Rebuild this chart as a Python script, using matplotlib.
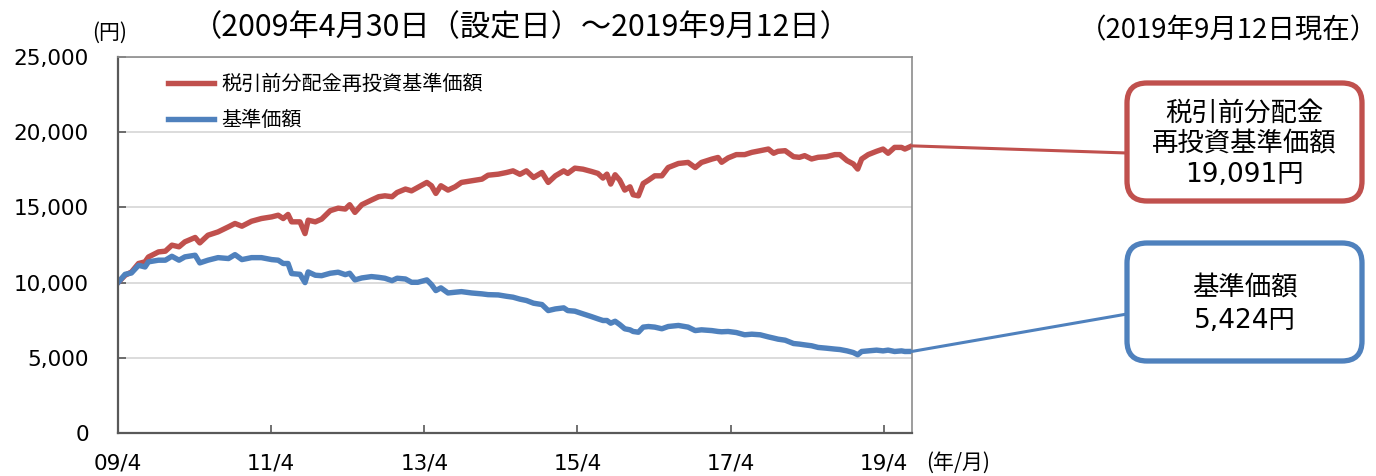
import matplotlib
matplotlib.use("Agg")
import matplotlib.pyplot as plt
import matplotlib.dates as mdates
from matplotlib.patches import FancyBboxPatch, ConnectionPatch
import pandas as pd

plt.rcParams['font.family'] = ['DejaVu Sans', 'Noto Sans CJK JP']
JP = ['Noto Sans CJK JP', 'DejaVu Sans']

# values (yen)
dates = [
    "2009-04-30", "2009-06-03", "2009-07-03", "2009-08-06", "2009-09-06", "2009-09-22",
    "2009-11-09", "2009-12-12", "2010-01-12", "2010-02-15", "2010-03-15", "2010-05-03",
    "2010-05-25", "2010-07-03", "2010-08-20", "2010-10-09", "2010-11-09", "2010-12-12",
    "2011-01-27", "2011-03-15", "2011-05-03", "2011-06-03", "2011-06-27", "2011-07-20",
    "2011-08-06", "2011-09-15", "2011-10-09", "2011-10-24", "2011-11-27", "2011-12-27",
    "2012-02-06", "2012-03-15", "2012-04-18", "2012-05-09", "2012-06-03", "2012-07-06",
    "2012-08-21", "2012-09-24", "2012-10-24", "2012-11-27", "2012-12-21", "2013-01-30",
    "2013-02-28", "2013-03-30", "2013-05-12", "2013-06-03", "2013-06-24", "2013-07-18",
    "2013-08-21", "2013-09-24", "2013-10-24", "2013-12-12", "2014-01-30", "2014-02-28",
    "2014-04-18", "2014-05-27", "2014-06-27", "2014-07-30", "2014-08-30", "2014-10-03",
    "2014-11-12", "2014-12-12", "2015-01-15", "2015-02-24", "2015-03-15", "2015-04-18",
    "2015-05-27", "2015-07-06", "2015-08-06", "2015-08-30", "2015-09-18", "2015-10-06",
    "2015-10-27", "2015-11-18", "2015-12-12", "2016-01-06", "2016-01-21", "2016-02-15",
    "2016-03-09", "2016-04-03", "2016-05-03", "2016-06-06", "2016-07-06", "2016-08-24",
    "2016-10-09", "2016-11-12", "2016-12-12", "2017-01-30", "2017-03-01", "2017-03-18",
    "2017-04-18", "2017-05-27", "2017-07-06", "2017-08-09", "2017-09-18", "2017-10-27",
    "2017-11-21", "2017-12-12", "2018-01-15", "2018-02-24", "2018-03-24", "2018-04-18",
    "2018-05-21", "2018-06-21", "2018-07-30", "2018-09-09", "2018-10-03", "2018-11-06",
    "2018-12-06", "2018-12-27", "2019-01-15", "2019-02-15", "2019-03-27", "2019-04-27",
    "2019-05-21", "2019-06-21", "2019-07-24", "2019-08-09", "2019-09-12",
]
reinvested = [
    10000, 10490, 10700, 11270, 11380, 11700,
    12040, 12090, 12490, 12380, 12710, 13000,
    12640, 13150, 13370, 13710, 13930, 13750,
    14080, 14260, 14370, 14480, 14260, 14530,
    14040, 14040, 13260, 14150, 14040, 14220,
    14780, 14950, 14890, 15180, 14670, 15180,
    15490, 15710, 15770, 15710, 15990, 16220,
    16100, 16330, 16660, 16440, 15930, 16440,
    16150, 16370, 16660, 16770, 16880, 17140,
    17210, 17320, 17430, 17200, 17430, 16990,
    17320, 16660, 17100, 17430, 17260, 17610,
    17540, 17390, 17260, 16950, 17210, 16550,
    17170, 16810, 16150, 16370, 15840, 15770,
    16590, 16810, 17100, 17100, 17650, 17920,
    17990, 17650, 17990, 18210, 18320, 18000,
    18290, 18510, 18510, 18660, 18770, 18880,
    18600, 18730, 18770, 18370, 18330, 18440,
    18220, 18330, 18370, 18510, 18510, 18110,
    17890, 17550, 18220, 18510, 18730, 18880,
    18600, 18990, 18990, 18880, 19091,
]
nav = [
    10000, 10550, 10640, 11150, 11040, 11380,
    11490, 11490, 11750, 11490, 11710, 11820,
    11310, 11490, 11660, 11600, 11860, 11530,
    11660, 11660, 11530, 11490, 11270, 11270,
    10600, 10550, 10000, 10710, 10490, 10460,
    10620, 10690, 10530, 10620, 10180, 10310,
    10400, 10350, 10290, 10130, 10290, 10240,
    10020, 10020, 10180, 9870, 9470, 9650,
    9310, 9360, 9400, 9310, 9250, 9200,
    9180, 9090, 9030, 8900, 8810, 8630,
    8540, 8140, 8250, 8320, 8140, 8100,
    7920, 7740, 7590, 7480, 7480, 7300,
    7430, 7210, 6930, 6860, 6750, 6700,
    7040, 7080, 7040, 6930, 7080, 7150,
    7040, 6810, 6860, 6810, 6750, 6730,
    6750, 6680, 6530, 6570, 6530, 6390,
    6310, 6240, 6170, 5950, 5910, 5860,
    5800, 5690, 5640, 5580, 5550, 5460,
    5350, 5200, 5420, 5460, 5510, 5460,
    5510, 5420, 5460, 5420, 5424,
]
series_names = ["税引前分配金再投資基準価額", "基準価額"]
tick_dates = ["2009-04-30", "2011-04-30", "2013-04-30", "2015-04-30", "2017-04-30", "2019-04-30"]
tick_labels = ["09/4", "11/4", "13/4", "15/4", "17/4", "19/4"]
y_ticks = [0, 5000, 10000, 15000, 20000, 25000]

RED = "#C0504D"
BLUE = "#4F81BD"

W, H = 1376, 476
fig = plt.figure(figsize=(W / 100, H / 100), dpi=100)
ax = fig.add_axes([118 / W, 1 - 433 / H, 794 / W, 376 / H])

x = pd.to_datetime(dates)
ax.plot(x, reinvested, color=RED, lw=3.9, label=series_names[0], solid_joinstyle="round")
ax.plot(x, nav, color=BLUE, lw=3.9, label=series_names[1], solid_joinstyle="round")

ax.set_xlim(x[0], x[-1])
ax.set_ylim(0, 25000)
ax.set_yticks(y_ticks)
ax.set_yticklabels([f"{v:,}" for v in y_ticks])
ax.set_xticks(pd.to_datetime(tick_dates))
ax.set_xticklabels(tick_labels)
ax.grid(axis="y", color="#d9d9d9", lw=1.3)
ax.set_axisbelow(True)

ax.tick_params(axis="y", direction="in", length=6, width=1.2, color="#595959",
               labelsize=15.5, pad=21)
ax.tick_params(axis="x", direction="in", length=6, width=1.2, color="#595959",
               labelsize=15.5, pad=15)
for side in ["left", "bottom"]:
    ax.spines[side].set_color("#595959")
    ax.spines[side].set_linewidth(1.6)
for side in ["top", "right"]:
    ax.spines[side].set_color("#8c8c8c")
    ax.spines[side].set_linewidth(1.2)

leg = ax.legend(loc="upper left", bbox_to_anchor=(0.053, 0.975), frameon=False,
                borderaxespad=0, handlelength=2.3, handletextpad=0.35,
                labelspacing=0.7, prop={"family": JP, "size": 14.5})

# overlay in pixel units for the outside texts and call-out boxes
ov = fig.add_axes([0, 0, 1, 1], zorder=5)
ov.set_xlim(0, W)
ov.set_ylim(H, 0)
ov.axis("off")
ov.patch.set_alpha(0)

ov.text(521, 28, "（2009年4月30日（設定日）～2019年9月12日）", fontsize=21.8,
        family=JP, ha="center", va="center")
ov.text(1228, 31, "（2019年9月12日現在）", fontsize=19.8, family=JP,
        ha="center", va="center")
ov.text(110, 33, "(円)", fontsize=15, family=JP, ha="center", va="center")
ov.text(958, 463, "(年/月)", fontsize=15, family=JP, ha="center", va="center")

x_end = mdates.date2num(x[-1])
boxes = [
    ((1127, 83), 235, 118, RED, ["税引前分配金", "再投資基準価額", "19,091円"], [114, 144, 175],
     (x_end, reinvested[-1]), (1127, 153)),
    ((1127, 243), 235, 118, BLUE, ["基準価額", "5,424円"], [289, 321],
     (x_end, nav[-1]), (1127, 314)),
]
for (x0, y0), bw, bh, col, lines, ys, start, end in boxes:
    ov.add_patch(FancyBboxPatch((x0, y0), bw, bh, boxstyle="round,pad=0,rounding_size=20",
                                fc="white", ec=col, lw=3.8, zorder=3))
    for line, yy in zip(lines, ys):
        ov.text(x0 + bw / 2, yy, line, fontsize=19, family=['DejaVu Sans', 'Noto Sans CJK JP'],
                ha="center", va="center", zorder=4)
    con = ConnectionPatch(xyA=start, coordsA=ax.transData, xyB=end, coordsB=ov.transData,
                          color=col, lw=2.2, zorder=2)
    fig.add_artist(con)

fig.savefig("out.png", dpi=100)
